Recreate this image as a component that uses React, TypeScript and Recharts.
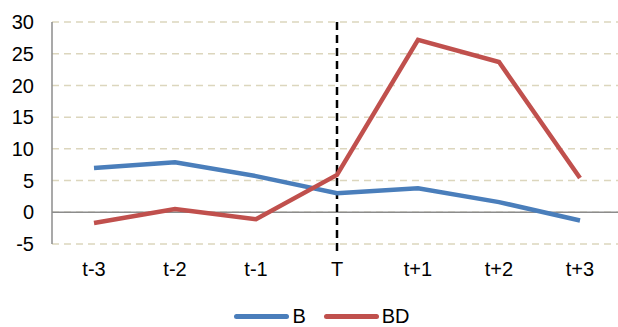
import { LineChart, Line, XAxis, YAxis, CartesianGrid, ReferenceLine, Legend } from 'recharts';

const periods = ['t-3', 't-2', 't-1', 'T', 't+1', 't+2', 't+3'];
const seriesB = [7.0, 7.9, 5.7, 3.0, 3.8, 1.6, -1.3];
const seriesBD = [-1.7, 0.5, -1.1, 5.9, 27.2, 23.7, 5.4];
const yTicks = [-5, 0, 5, 10, 15, 20, 25, 30];

const BLUE = '#4a7ebb';
const RED = '#c0504d';

const data = periods.map((p, i) => ({ period: p, B: seriesB[i], BD: seriesBD[i] }));

// dashed marker at T runs a little past the plot bottom
function EventLine(props: any) {
  const { x1, y1, x2, y2 } = props;
  if (x1 == null) return null;
  const top = Math.min(y1, y2);
  const bottom = Math.max(y1, y2) + 12;
  return <line x1={x1} y1={top} x2={x2} y2={bottom} stroke="#000" strokeWidth={2.5} strokeDasharray="8 5" />;
}

function LegendRow() {
  const item = (color: string, label: string) => (
    <span style={{ display: 'inline-flex', alignItems: 'center', marginRight: 18 }}>
      <span style={{ width: 55, height: 5, borderRadius: 3, background: color, display: 'inline-block', marginRight: 3 }} />
      {label}
    </span>
  );
  return (
    <div style={{ display: 'flex', justifyContent: 'center', fontSize: 20, lineHeight: '22px', color: '#000', paddingTop: 15, paddingLeft: 44 }}>
      {item(BLUE, 'B')}
      {item(RED, 'BD')}
    </div>
  );
}

export default function App() {
  return (
    <div style={{ position: 'absolute', left: 0, top: 0, background: '#fff', fontFamily: '"Liberation Sans", Arial, sans-serif' }}>
      <LineChart width={618} height={327} data={data} margin={{ top: 22, right: 0, bottom: 0, left: 0 }}>
        <CartesianGrid vertical={false} stroke="#dcd6bd" strokeDasharray="7 5" strokeWidth={1.5} />
        <XAxis
          dataKey="period"
          axisLine={false}
          tickLine={false}
          tickSize={0}
          tickMargin={18}
          height={46}
          padding={{ left: 42, right: 38 }}
          tick={{ fill: '#000', fontSize: 20 }}
        />
        <YAxis
          domain={[-5, 30]}
          ticks={yTicks}
          width={52}
          tickLine={false}
          tickSize={0}
          tickMargin={18}
          axisLine={{ stroke: '#8c8c8c', strokeWidth: 1.5 }}
          tick={{ fill: '#000', fontSize: 20 }}
          interval={0}
        />
        <ReferenceLine y={0} stroke="#8c8c8c" strokeWidth={1.5} />
        <ReferenceLine x="T" shape={EventLine} />
        <Line type="linear" dataKey="B" stroke={BLUE} strokeWidth={4.5} dot={false} isAnimationActive={false} />
        <Line type="linear" dataKey="BD" stroke={RED} strokeWidth={4.5} dot={false} isAnimationActive={false} />
        <Legend verticalAlign="bottom" height={37} content={() => <LegendRow />} />
      </LineChart>
    </div>
  );
}
